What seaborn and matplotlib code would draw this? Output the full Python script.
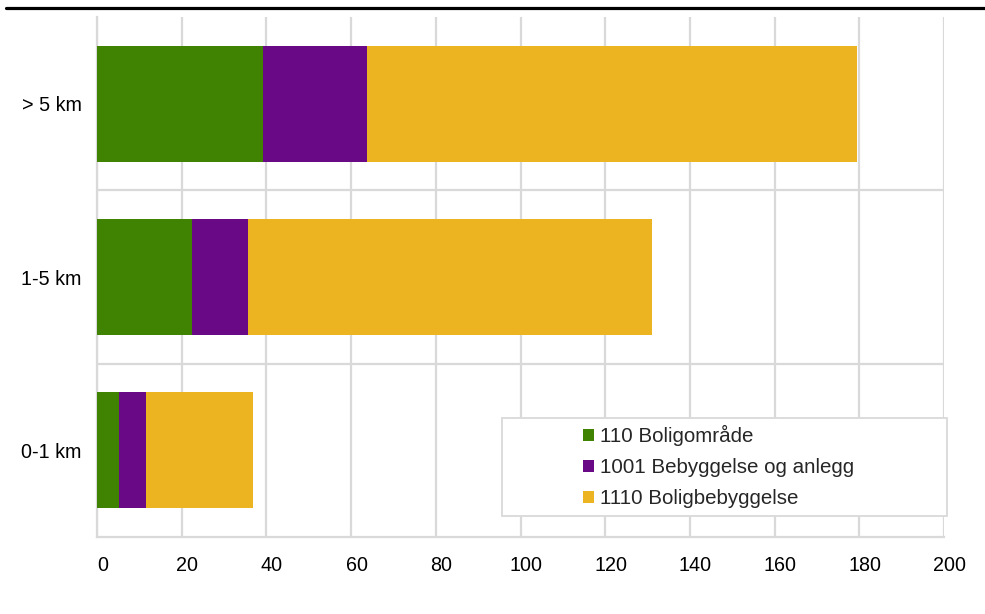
import matplotlib
matplotlib.use("Agg")
import matplotlib.pyplot as plt
from matplotlib.patches import Patch, Rectangle
from matplotlib.lines import Line2D
import matplotlib.transforms as mtransforms
import seaborn as sns
import pandas as pd

categories = ["> 5 km", "1-5 km", "0-1 km"]
series_names = ["110 Boligområde", "1001 Bebyggelse og anlegg", "1110 Boligbebyggelse"]
boligomrade = [39.3, 22.5, 5.2]
bebyggelse_anlegg = [24.5, 13.1, 6.4]
boligbebyggelse = [115.7, 95.4, 25.2]
colors = ["#408303", "#690985", "#EBB420"]
x_ticks = [0, 20, 40, 60, 80, 100, 120, 140, 160, 180, 200]

sns.set_theme(style="white")
plt.rcParams["font.family"] = ["Liberation Sans", "DejaVu Sans"]

df = pd.DataFrame({
    "kategori": categories,
    series_names[0]: boligomrade,
    series_names[1]: bebyggelse_anlegg,
    series_names[2]: boligbebyggelse,
})
cum = df[series_names].cumsum(axis=1)

fig = plt.figure(figsize=(9.85, 6.14), dpi=100)
ax = fig.add_axes([97 / 985, 1 - 537 / 614, (944 - 97) / 985, (537 - 17) / 614])

grid_color = "#D9D9D9"
tick_size = 14.2
legend_size = 14.8

# stacked bars: draw cumulative totals from the outermost segment inward
for name, color in reversed(list(zip(series_names, colors))):
    sns.barplot(x=cum[name], y=df["kategori"], order=categories, orient="h",
                color=color, width=0.67, saturation=1, linewidth=0, ax=ax, zorder=3)

ax.set_xlim(0, 200)
ax.set_ylim(2.5, -0.5)
ax.set_xticks(x_ticks)
ax.set_xticklabels([str(t) for t in x_ticks])
ax.set_xlabel("")
ax.set_ylabel("")

for t in x_ticks:
    ax.axvline(t, color=grid_color, lw=1.6, zorder=1)
for yb in [0.5, 1.5]:
    ax.axhline(yb, color=grid_color, lw=1.6, zorder=1)

for s in ["top", "right"]:
    ax.spines[s].set_visible(False)
for s in ["left", "bottom"]:
    ax.spines[s].set_color(grid_color)
    ax.spines[s].set_linewidth(1.6)

ax.tick_params(axis="both", length=0, labelsize=tick_size, colors="#000000")
ax.tick_params(axis="x", pad=14)
ax.tick_params(axis="y", pad=11)

# nudge the value labels slightly to the right of their ticks
shift = mtransforms.ScaledTranslation(5.5 / 100, 0, fig.dpi_scale_trans)
for lbl in ax.get_xticklabels():
    lbl.set_transform(lbl.get_transform() + shift)

# legend box
fig.add_artist(Rectangle((502 / 985, 1 - 516 / 614), (947 - 502) / 985, (516 - 418) / 614,
                         transform=fig.transFigure, facecolor="white",
                         edgecolor=grid_color, lw=1.3, zorder=5))
handles = [Patch(facecolor=c, edgecolor="none") for c in colors]
leg = fig.legend(handles, series_names, loc="upper left",
                 bbox_to_anchor=(583 / 985, 1 - 425 / 614), frameon=False,
                 fontsize=legend_size, handlelength=0.54, handleheight=0.54,
                 handletextpad=0.3, labelspacing=0.58, borderpad=0,
                 borderaxespad=0)
leg.set_zorder(6)

# header rule
fig.add_artist(Line2D([6 / 985, 1.0], [1 - 8 / 614, 1 - 8 / 614],
                      transform=fig.transFigure, color="black", lw=2.3))

fig.savefig("out.png", dpi=100)
